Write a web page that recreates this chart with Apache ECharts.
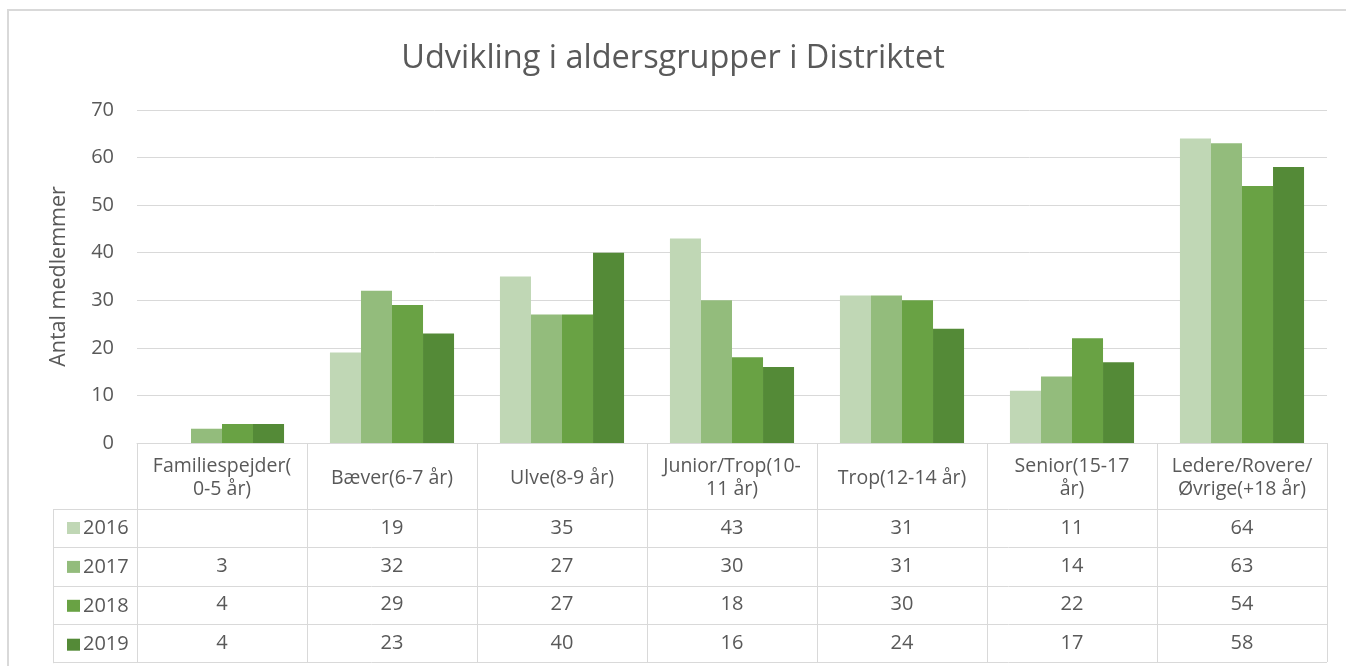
<!DOCTYPE html>
<html>
<head>
<meta charset="utf-8">
<script src="https://cdn.jsdelivr.net/npm/echarts@6/dist/echarts.min.js"></script>
<style>
  html, body { margin: 0; padding: 0; background: #fff; }
  #main { width: 1346px; height: 666px; }
</style>
</head>
<body>
<div id="main"></div>
<script>
// kategorier (aldersgrupper)
var categories = ['Familiespejder(\n0-5 år)', 'Bæver(6-7 år)', 'Ulve(8-9 år)', 'Junior/Trop(10-\n11 år)', 'Trop(12-14 år)', 'Senior(15-17\når)', 'Ledere/Rovere/\nØvrige(+18 år)'];
var years = ['2016', '2017', '2018', '2019'];
var v2016 = [null, 19, 35, 43, 31, 11, 64];
var v2017 = [3, 32, 27, 30, 31, 14, 63];
var v2018 = [4, 29, 27, 18, 30, 22, 54];
var v2019 = [4, 23, 40, 16, 24, 17, 58];
var yTicks = [0, 10, 20, 30, 40, 50, 60, 70];

var allValues = [v2016, v2017, v2018, v2019];
var colors = ['#c0d7b5', '#93bc7c', '#69a244', '#548a37'];
var font = '"Open Sans", sans-serif';
var textColor = '#595959';
var lineColor = '#d9d9d9';

// tabel-layout
var headerBottom = 509;
var rowH = 38.3;
var tableLeft = 53;
var tableRight = 1327;

var myChart = echarts.init(document.getElementById('main'));

var series = years.map(function (y, i) {
  return {
    name: y,
    type: 'bar',
    data: allValues[i],
    itemStyle: { color: colors[i] },
    barGap: '0%',
    barCategoryGap: '27%'
  };
});

myChart.setOption({
  animation: false,
  title: {
    text: 'Udvikling i aldersgrupper i Distriktet',
    left: 'center',
    top: 37,
    textStyle: { fontFamily: font, fontSize: 32.5, fontWeight: 'normal', color: textColor }
  },
  legend: {
    data: years,
    orient: 'vertical',
    left: 62,
    top: 512,
    icon: 'rect',
    itemWidth: 13,
    itemHeight: 12,
    itemGap: 16.9,
    selectedMode: false,
    textStyle: { fontFamily: font, fontSize: 20, color: textColor, lineHeight: 22, padding: [0, 0, 0, -2] }
  },
  grid: { left: 137, right: 19, top: 110, bottom: 223 },
  xAxis: {
    type: 'category',
    data: categories,
    axisLine: { show: true, lineStyle: { color: lineColor } },
    axisTick: { show: true, interval: 0, length: 219, lineStyle: { color: lineColor } },
    axisLabel: {
      interval: 0,
      fontFamily: font,
      fontSize: 19.5,
      color: textColor,
      lineHeight: 23,
      verticalAlign: 'middle',
      margin: 35
    }
  },
  yAxis: {
    type: 'value',
    min: yTicks[0],
    max: yTicks[yTicks.length - 1],
    interval: 10,
    name: 'Antal medlemmer',
    nameLocation: 'middle',
    nameGap: 67,
    nameTextStyle: { fontFamily: font, fontSize: 21.5, color: textColor },
    axisLine: { show: false },
    axisTick: { show: false },
    axisLabel: { fontFamily: font, fontSize: 20, color: textColor, margin: 23 },
    splitLine: { lineStyle: { color: lineColor } }
  },
  series: series
});

// datatabel under akserne
var graphics = [];
graphics.push({
  type: 'rect',
  shape: { x: 8, y: 10, width: 1400, height: 700 },
  style: { fill: 'none', stroke: lineColor, lineWidth: 2 },
  silent: true
});
for (var r = 0; r <= years.length; r++) {
  var yy = Math.round(headerBottom + r * rowH) + 0.5;
  graphics.push({
    type: 'line',
    shape: { x1: tableLeft, y1: yy, x2: tableRight, y2: yy },
    style: { stroke: lineColor, lineWidth: 1 },
    silent: true
  });
}
graphics.push({
  type: 'line',
  shape: { x1: tableLeft + 0.5, y1: headerBottom, x2: tableLeft + 0.5, y2: headerBottom + years.length * rowH + 1 },
  style: { stroke: lineColor, lineWidth: 1 },
  silent: true
});
allValues.forEach(function (vals, si) {
  vals.forEach(function (v, ci) {
    if (v == null) return;
    var px = myChart.convertToPixel({ xAxisIndex: 0 }, ci);
    graphics.push({
      type: 'text',
      x: px,
      y: headerBottom + (si + 0.5) * rowH,
      silent: true,
      style: {
        text: String(v),
        align: 'center',
        verticalAlign: 'middle',
        fontFamily: font,
        fontSize: 20,
        fill: textColor
      }
    });
  });
});
myChart.setOption({ graphic: graphics });
</script>
</body>
</html>
